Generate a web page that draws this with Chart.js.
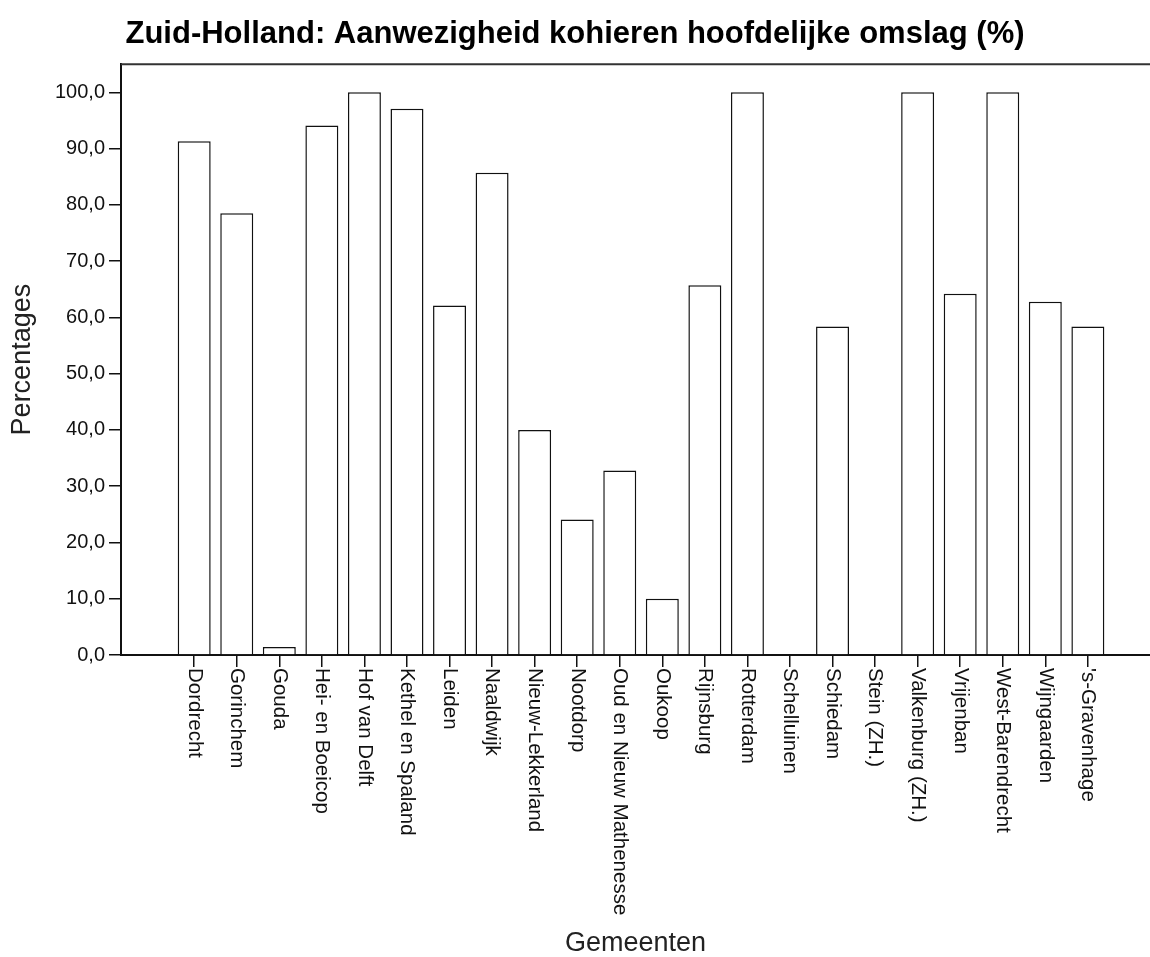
<!DOCTYPE html>
<html>
<head>
<meta charset="utf-8">
<script src="https://cdn.jsdelivr.net/npm/chart.js@4/dist/chart.umd.min.js"></script>
<style>
  html, body { margin: 0; padding: 0; background: #fff; }
  #wrap { width: 1150px; height: 957px; position: relative; }
</style>
</head>
<body>
<div id="wrap"><canvas id="c"></canvas></div>
<script>
const categories = [
  "Dordrecht", "Gorinchem", "Gouda", "Hei- en Boeicop", "Hof van Delft",
  "Kethel en Spaland", "Leiden", "Naaldwijk", "Nieuw-Lekkerland", "Nootdorp",
  "Oud en Nieuw Mathenesse", "Oukoop", "Rijnsburg", "Rotterdam", "Schelluinen",
  "Schiedam", "Stein (ZH.)", "Valkenburg (ZH.)", "Vrijenban", "West-Barendrecht",
  "Wijngaarden", "'s-Gravenhage"
];
const percentages = [
  91.3, 78.5, 1.4, 94.1, 100,
  97.1, 62.1, 85.7, 40.0, 24.1,
  32.8, 10.0, 65.7, 100, 0,
  58.4, 0, 100, 64.2, 100,
  62.8, 58.4
];
const yTickValues = [0, 10, 20, 30, 40, 50, 60, 70, 80, 90, 100];

const chartTitle = "Zuid-Holland: Aanwezigheid kohieren hoofdelijke omslag (%)";
const xTitle = "Gemeenten";
const yTitle = "Percentages";

const FONT = '"Liberation Sans", Arial, Helvetica, sans-serif';

const framePlugin = {
  id: 'frameAndLabels',
  afterDraw(chart) {
    const { ctx, chartArea } = chart;
    const xs = chart.scales.x;
    ctx.save();
    ctx.strokeStyle = '#333';
    ctx.lineWidth = 2;
    ctx.beginPath();
    ctx.moveTo(chartArea.left, chartArea.top);
    ctx.lineTo(chartArea.right, chartArea.top);
    ctx.stroke();

    ctx.font = '20.5px ' + FONT;
    ctx.fillStyle = '#111';
    ctx.textAlign = 'left';
    ctx.textBaseline = 'middle';
    categories.forEach((name, i) => {
      const px = xs.getPixelForValue(i);
      ctx.save();
      ctx.translate(px, chartArea.bottom + 13);
      ctx.rotate(Math.PI / 2);
      ctx.fillText(name, 0, 0);
      ctx.restore();
    });
    ctx.restore();
  }
};

new Chart(document.getElementById('c'), {
  type: 'bar',
  data: {
    datasets: [{
      data: percentages.map((v, i) => ({ x: i, y: v })),
      backgroundColor: '#ffffff',
      borderColor: '#111',
      borderWidth: 1.5,
      categoryPercentage: 1,
      barPercentage: 0.775
    }]
  },
  options: {
    responsive: true,
    maintainAspectRatio: false,
    animation: false,
    layout: { padding: { left: 0, right: 0, top: 0, bottom: 0 } },
    plugins: {
      legend: { display: false },
      tooltip: { enabled: false },
      title: {
        display: true,
        text: chartTitle,
        color: '#000',
        font: { family: FONT, size: 31, weight: 'bold', lineHeight: 1.2 },
        padding: { top: 16, bottom: 11 }
      }
    },
    scales: {
      x: {
        type: 'linear',
        offset: false,
        min: -1.72,
        max: 22.46,
        afterBuildTicks(scale) {
          scale.ticks = categories.map((c, i) => ({ value: i }));
        },
        afterFit(scale) { scale.height = 302; },
        grid: {
          offset: false,
          drawOnChartArea: false,
          drawTicks: true,
          tickLength: 12,
          color: '#111',
          lineWidth: 1.5
        },
        border: { display: true, color: '#111', width: 2 },
        ticks: { display: false },
        title: {
          display: true,
          text: xTitle,
          color: '#222',
          font: { family: FONT, size: 27, lineHeight: 1 },
          padding: { top: 0, bottom: 0 }
        }
      },
      y: {
        min: 0,
        max: 105,
        afterBuildTicks(scale) {
          scale.ticks = yTickValues.map(v => ({ value: v }));
        },
        afterFit(scale) { scale.width = 121; },
        grid: {
          drawOnChartArea: false,
          drawTicks: true,
          tickLength: 12,
          color: '#111',
          lineWidth: 1.5
        },
        border: { display: true, color: '#111', width: 2 },
        ticks: {
          color: '#111',
          padding: 4,
          font: { family: FONT, size: 20 },
          callback: (v) => Number(v).toFixed(1).replace('.', ',')
        },
        title: {
          display: true,
          text: yTitle,
          color: '#222',
          font: { family: FONT, size: 27, lineHeight: 1 },
          padding: { top: 9, bottom: 0 }
        }
      }
    }
  },
  plugins: [framePlugin]
});
</script>
</body>
</html>
